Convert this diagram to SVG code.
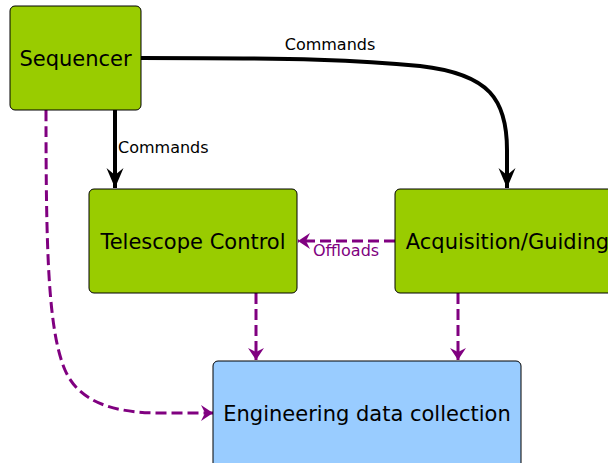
<svg xmlns="http://www.w3.org/2000/svg" width="608" height="463" viewBox="0 0 608 463">
  <style>
    .node rect { stroke: #000; stroke-width: 1; }
    .green { fill: #99cc00; }
    .blue { fill: #99ccff; }
    .title { font-family: "DejaVu Sans", sans-serif; font-size: 21px; fill: #000; text-anchor: middle; }
    .cmd { fill: none; stroke: #000; stroke-width: 4; }
    .data { fill: none; stroke: #800080; stroke-width: 3; stroke-dasharray: 11 5; }
    .label { font-family: "DejaVu Sans", sans-serif; font-size: 16px; }
  </style>
  <defs>
    <marker id="arrowBlack" markerUnits="userSpaceOnUse" markerWidth="22" markerHeight="18" refX="20" refY="8.5" orient="auto" overflow="visible">
      <path d="M0,0 L20,8.5 L0,17 L7,8.5 z" fill="#000"/>
    </marker>
    <marker id="arrowPurple" markerUnits="userSpaceOnUse" markerWidth="14" markerHeight="18" refX="12" refY="8" orient="auto" overflow="visible">
      <path d="M0,0 L12,8 L0,16 L4,8 z" fill="#800080"/>
    </marker>
  </defs>

  <g id="connectors">
    <!-- command flows -->
    <path class="cmd" d="M141,58 C 300,58 360,60 420,66 C 490,74 507,100 507,150 L507,188" marker-end="url(#arrowBlack)"/>
    <text class="label" x="330" y="50" text-anchor="middle">Commands</text>
    <path class="cmd" d="M115,110 L115,188" marker-end="url(#arrowBlack)"/>
    <text class="label" x="118" y="153">Commands</text>
    <!-- data flows -->
    <path class="data" d="M395,241 L298,241" marker-end="url(#arrowPurple)"/>
    <text class="label" x="313" y="256" fill="#800080">Offloads</text>
    <path class="data" d="M46,110 C 46,250 48,330 65,370 C 80,405 120,413 160,413 L213,413" marker-end="url(#arrowPurple)"/>
    <path class="data" d="M256,293 L256,360" marker-end="url(#arrowPurple)"/>
    <path class="data" d="M458,293 L458,360" marker-end="url(#arrowPurple)"/>
  </g>

  <g id="sequencer" class="node">
    <rect class="green" x="10" y="6" width="131" height="104" rx="5"/>
    <text class="title" x="75.5" y="66">Sequencer</text>
  </g>
  <g id="telescope-control" class="node">
    <rect class="green" x="89" y="189" width="208" height="104" rx="5"/>
    <text class="title" x="193" y="249">Telescope Control</text>
  </g>
  <g id="acquisition-guiding" class="node">
    <rect class="green" x="395" y="189" width="225" height="104" rx="5"/>
    <text class="title" x="507.5" y="249">Acquisition/Guiding</text>
  </g>
  <g id="engineering-data" class="node">
    <rect class="blue" x="213" y="361" width="308" height="110" rx="5"/>
    <text class="title" x="367" y="421">Engineering data collection</text>
  </g>
</svg>
